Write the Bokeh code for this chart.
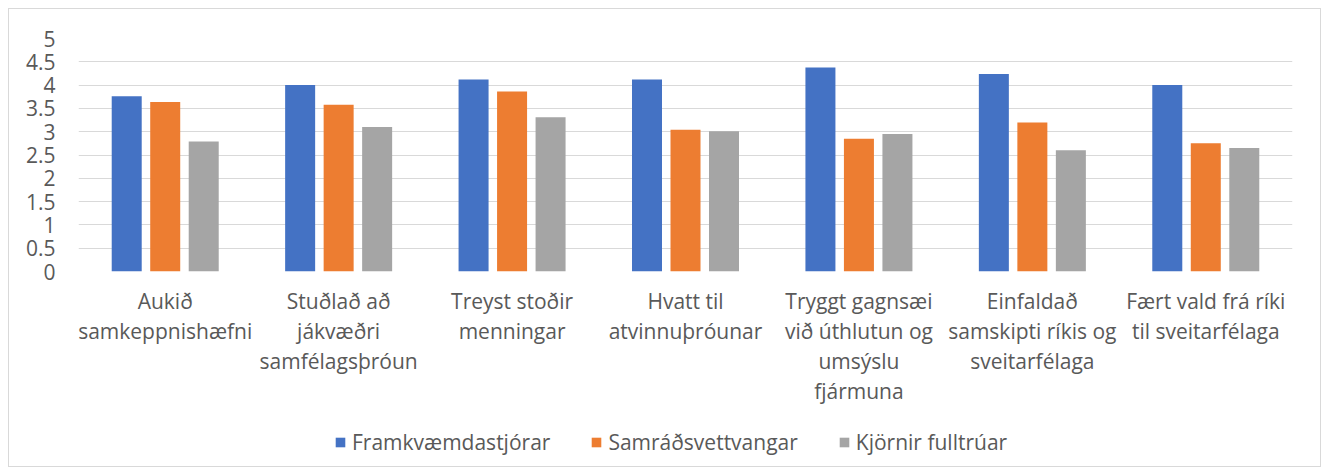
from bokeh.plotting import figure
from bokeh.layouts import column
from bokeh.models import (ColumnDataSource, FactorRange, Range1d, FixedTicker,
                          CustomJSTickFormatter, Legend, LegendItem)
from bokeh.transform import dodge
from bokeh.embed import file_html
from bokeh.resources import INLINE

categories = [
    "Aukið\nsamkeppnishæfni",
    "Stuðlað að\njákvæðri\nsamfélagsþróun",
    "Treyst stoðir\nmenningar",
    "Hvatt til\natvinnuþróunar",
    "Tryggt gagnsæi\nvið úthlutun og\numsýslu\nfjármuna",
    "Einfaldað\nsamskipti ríkis og\nsveitarfélaga",
    "Fært vald frá ríki\ntil sveitarfélaga",
]
series_names = ["Framkvæmdastjórar", "Samráðsvettvangar", "Kjörnir fulltrúar"]
framkvaemdastjorar = [3.76, 4.00, 4.12, 4.12, 4.38, 4.24, 4.00]
samradsvettvangar = [3.64, 3.58, 3.86, 3.04, 2.85, 3.20, 2.75]
kjornir_fulltruar = [2.79, 3.10, 3.31, 3.01, 2.95, 2.60, 2.65]
y_ticks = [0, 0.5, 1, 1.5, 2, 2.5, 3, 3.5, 4, 4.5, 5]

colors = ["#4472C4", "#ED7D31", "#A5A5A5"]
FONT = "Open Sans"
TXT = "#595959"
keys = ["a", "b", "c"]
offsets = [-0.222, 0.0, 0.222]

src = ColumnDataSource(dict(cat=categories, a=framkvaemdastjorar,
                            b=samradsvettvangar, c=kjornir_fulltruar))

p = figure(x_range=FactorRange(*categories, range_padding=0),
           y_range=Range1d(0, 5),
           width=1311, height=411, output_backend="svg",
           toolbar_location=None,
           min_border_left=69, min_border_right=28,
           min_border_top=29, min_border_bottom=149)
p.outline_line_color = None
p.background_fill_color = "white"
p.border_fill_color = "white"

for key, off, col in zip(keys, offsets, colors):
    p.vbar(x=dodge("cat", off, range=p.x_range), top=key, width=0.173,
           source=src, fill_color=col, line_color=None)

p.xgrid.grid_line_color = None
p.ygrid.grid_line_color = "#d9d9d9"
p.ygrid.grid_line_width = 1
p.yaxis.ticker = FixedTicker(ticks=y_ticks)
p.yaxis.formatter = CustomJSTickFormatter(code="return tick.toString();")

for ax in (p.xaxis[0], p.yaxis[0]):
    ax.axis_line_color = None
    ax.major_tick_line_color = None
    ax.minor_tick_line_color = None
    ax.major_tick_out = 0
    ax.major_tick_in = 0
    ax.major_label_text_font = FONT
    ax.major_label_text_font_size = "21px"
    ax.major_label_text_color = TXT

p.yaxis.major_label_standoff = 23
p.xaxis.major_label_standoff = 15
p.xaxis.major_label_text_line_height = 1.08
p.xaxis.major_label_text_align = "center"

# legend strip: same series, drawn outside its visible y-range so only the legend shows
lf = figure(x_range=FactorRange(*categories, range_padding=0),
            y_range=Range1d(10, 11),
            width=1311, height=46, output_backend="svg", toolbar_location=None,
            min_border_left=0, min_border_right=0, min_border_top=0, min_border_bottom=0)
lf.axis.visible = False
lf.grid.visible = False
lf.outline_line_color = None
lf.background_fill_color = "white"
lf.border_fill_color = "white"
lrs = []
for key, off, col in zip(keys, offsets, colors):
    lrs.append(lf.vbar(x=dodge("cat", off, range=lf.x_range), top=key, width=0.173,
                       source=src, fill_color=col, line_color=None))

legend = Legend(items=[LegendItem(label=n, renderers=[r]) for n, r in zip(series_names, lrs)],
                orientation="horizontal", location=(256, 10),
                margin=0, padding=0, spacing=40, label_standoff=6,
                glyph_width=12, glyph_height=12, label_height=24,
                border_line_color=None, background_fill_alpha=0,
                label_text_font=FONT, label_text_font_size="21px",
                label_text_color=TXT)
lf.add_layout(legend, "center")

layout = column(p, lf, spacing=0,
                styles={"border": "1px solid #d9d9d9", "margin-left": "8px",
                        "margin-top": "8px", "background-color": "white"})

open("out.html", "w").write(file_html(layout, INLINE))
